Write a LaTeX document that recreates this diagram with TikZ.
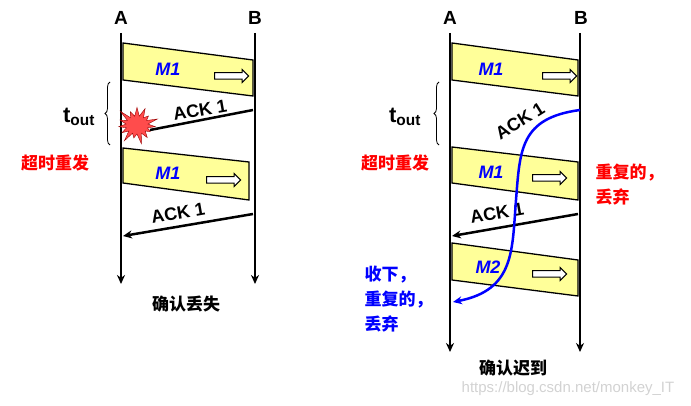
\documentclass[tikz,border=0pt]{standalone}
\usepackage{fontspec}
\setmainfont{Liberation Sans}
\newfontfamily\cjk{Noto Sans CJK SC}
\usetikzlibrary{shapes.symbols, shapes.arrows, decorations.pathreplacing, arrows.meta}
\definecolor{msgyellow}{RGB}{255,255,153}

\begin{document}
\begin{tikzpicture}[x=1pt, y=-1pt,
    life/.style={line width=2.5pt, -{Stealth[length=9pt, width=8pt]}},
    msg/.style={draw, line width=1.3pt, fill=msgyellow},
    ack/.style={line width=2.5pt, -{Stealth[length=9pt, width=8pt]}},
    mlabel/.style={font=\fontsize{18}{20}\selectfont\bfseries\itshape, text=blue},
    hollow/.style={single arrow, draw, line width=1pt, fill=white, minimum height=34pt, minimum width=13pt, single arrow head extend=2.5pt, inner sep=2pt},
    peer/.style={font=\fontsize{19}{21}\selectfont\bfseries},
    cn/.style={font=\fontsize{17}{25}\selectfont\cjk\bfseries, align=left},
    ackl/.style={font=\fontsize{18}{20}\selectfont\bfseries}]
   \useasboundingbox (0,0) rectangle (691,406);
   % 左图: 确认丢失
   \node[peer] (la) at (121,18) {A};
   \node[peer] (lb) at (255,18) {B};
   \coordinate (la0) at (121,33); \coordinate (la1) at (121,284);
   \coordinate (lb0) at (255,33); \coordinate (lb1) at (255,284);
   \draw[msg] (123,43) -- (253,60) -- (253,96) -- (123,80) -- cycle;
   \draw[msg] (123,148) -- (249,162) -- (249,200) -- (123,183) -- cycle;
   \draw[life] (la0) -- (la1);
   \draw[life] (lb0) -- (lb1);
   \node[mlabel] (lm1) at (168,69) {M1};
   \node[hollow] (lh1) at (230,76) {};
   \node[mlabel] (lm2) at (168,173) {M1};
   \node[hollow] (lh2) at (222,180) {};
   \coordinate (lk1) at (253,110);
   \draw[line width=2.5pt] (lk1) -- (150,130);
   \node[starburst, fill=red!70, draw=red!60!black, starburst points=15, starburst point height=12pt, minimum width=46pt, minimum height=42pt, inner sep=0pt] (boom) at (137,125) {};
   \node[ackl, rotate=10] (lk1t) at (200,110) {ACK 1};
   \draw[decorate, decoration={brace, amplitude=5pt}, line width=0.8pt] (110,145) -- (110,82);
   \node[font=\fontsize{22}{24}\selectfont\bfseries] (lt) at (79,117) {t\textsubscript{out}};
   \node[cn, text=red] (lre) at (55,163) {超时重发};
   \coordinate (lk2) at (253,214); \coordinate (lk2e) at (123,236);
   \draw[ack] (lk2) -- (lk2e);
   \node[ackl, rotate=10] (lk2t) at (178,213) {ACK 1};
   \node[cn] (lcap) at (186,304) {确认丢失};
   % 右图: 确认迟到
   \node[peer] (ra) at (450,18) {A};
   \node[peer] (rb) at (581,18) {B};
   \coordinate (ra0) at (450,33); \coordinate (ra1) at (450,352);
   \coordinate (rb0) at (580,33); \coordinate (rb1) at (580,352);
   \draw[msg] (452,43) -- (578,60) -- (578,96) -- (452,80) -- cycle;
   \draw[msg] (452,147) -- (578,162) -- (578,200) -- (452,183) -- cycle;
   \draw[msg] (452,243) -- (578,260) -- (578,296) -- (452,280) -- cycle;
   \draw[life] (ra0) -- (ra1);
   \draw[life] (rb0) -- (rb1);
   \node[mlabel] (rm1) at (491,69) {M1};
   \node[hollow] (rh1) at (558,76) {};
   \node[mlabel] (rm2) at (491,172) {M1};
   \node[hollow] (rh2) at (548,178) {};
   \node[mlabel] (rm3) at (488,267) {M2};
   \node[hollow] (rh3) at (548,274) {};
   \draw[decorate, decoration={brace, amplitude=5pt}, line width=0.8pt] (439,145) -- (439,82);
   \node[font=\fontsize{22}{24}\selectfont\bfseries] (rt) at (405,117) {t\textsubscript{out}};
   \node[cn, text=red] (rre) at (395,163) {超时重发};
   \node[cn, text=red, anchor=north west] (rdup) at (592,160) {重复的，\\丢弃};
   \coordinate (rk2) at (578,214); \coordinate (rk2e) at (452,236);
   \draw[ack] (rk2) -- (rk2e);
   \node[ackl, rotate=10] (rk2t) at (497,213) {ACK 1};
   \node[ackl, rotate=32] (rk1t) at (520,121) {ACK 1};
   \coordinate (rk1) at (580,110); \coordinate (rk1e) at (453,302);
   \draw[ack, blue] (rk1) .. controls (520,118) and (520,150) .. (516,200)
      .. controls (512,250) and (515,290) .. (rk1e);
   \node[cn, text=blue, anchor=north west] (racc) at (361,262) {收下，\\重复的，\\丢弃};
   \node[cn] (rcap) at (513,368) {确认迟到};
   \node[text=gray!35, font=\fontsize{15}{17}\selectfont] (wm) at (568,389) {https://blog.csdn.net/monkey\_IT};
\end{tikzpicture}
\end{document}
